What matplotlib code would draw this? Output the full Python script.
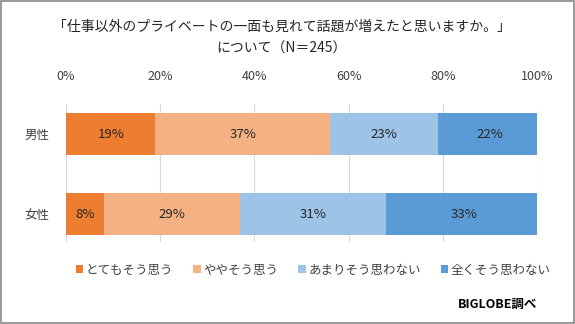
import matplotlib.pyplot as plt
from matplotlib.patches import Rectangle

plt.rcParams['font.family'] = ['Noto Sans CJK JP', 'DejaVu Sans']

# データ
groups = ['男性', '女性']
answers = ['とてもそう思う', 'ややそう思う', 'あまりそう思わない', '全くそう思わない']
male = [19, 37, 23, 22]
female = [8, 29, 31, 33]
colors = ['#ED7D31', '#F4B183', '#9DC3E6', '#5B9BD5']
xticks = [0, 20, 40, 60, 80, 100]

values = [male, female]

fig = plt.figure(figsize=(5.75, 3.24), dpi=100)
ax = fig.add_axes([66 / 575, 1 - 242 / 324, 471 / 575, 138 / 324])

ypos = [0, 1]
left = [0, 0]
handles = []
for k in range(len(answers)):
    widths = [values[g][k] for g in range(len(groups))]
    bars = ax.barh(ypos, widths, left=left, height=0.525, color=colors[k],
                   label=answers[k], zorder=2)
    handles.append(bars)
    for g in range(len(groups)):
        ax.text(left[g] + widths[g] / 2, ypos[g], f'{widths[g]}%',
                ha='center', va='center', fontsize=9.5, color='#262626', zorder=3)
    left = [left[g] + widths[g] for g in range(len(groups))]

ax.set_xlim(0, 100)
ax.set_ylim(1.35, -0.375)
ax.set_xticks(xticks)
ax.set_xticklabels([f'{t}%' for t in xticks], fontsize=9, color='#404040')
ax.xaxis.tick_top()
ax.tick_params(axis='x', length=0, pad=15)
ax.set_yticks(ypos)
ax.set_yticklabels(groups, fontsize=9, color='#404040')
ax.tick_params(axis='y', length=0, pad=12)
ax.grid(axis='x', color='#D9D9D9', linewidth=0.8, zorder=0)
for s in ax.spines.values():
    s.set_visible(False)

fig.text(0.49, 1 - 27 / 324, '「仕事以外のプライベートの一面も見れて話題が増えたと思いますか。」',
         ha='center', va='center', fontsize=10, color='#262626')
fig.text(0.49, 1 - 49 / 324, 'について（N＝245）',
         ha='center', va='center', fontsize=10, color='#262626')

fig.legend(handles=handles, labels=answers, loc='center', ncol=4,
           bbox_to_anchor=(0.545, 1 - 270 / 324), frameon=False,
           fontsize=9, handlelength=0.6, handleheight=0.6, handletextpad=0.2,
           columnspacing=1.6, labelcolor='#404040')

fig.text(537 / 575, 1 - 304 / 324, 'BIGLOBE調べ', ha='right', va='center',
         fontsize=9, fontweight='bold', color='#000000')

fig.patches.append(Rectangle((0.001, 0.002), 0.997, 0.995, transform=fig.transFigure,
                             fill=False, edgecolor='#888888', linewidth=1.2))

fig.savefig('out.png', dpi=100)
